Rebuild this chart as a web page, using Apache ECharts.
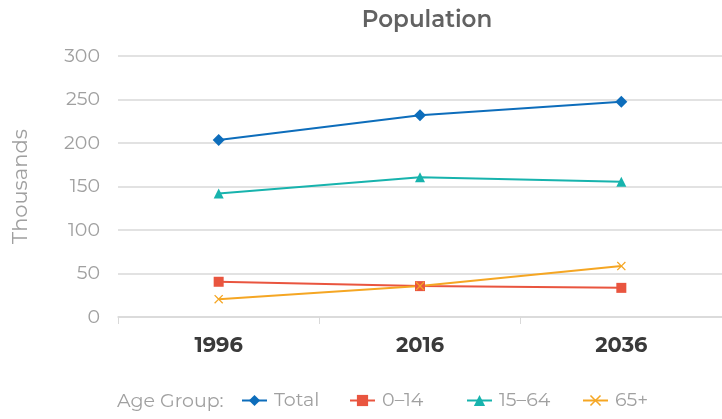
<!DOCTYPE html>
<html><head><meta charset="utf-8">
<script src="https://cdn.jsdelivr.net/npm/echarts@6/dist/echarts.min.js"></script>
<style>html,body{margin:0;padding:0;background:#fff}#c{width:722px;height:419px}</style>
</head><body><div id="c"></div>
<script>
const categories = ['1996', '2016', '2036'];
const totalValues = [203.5, 232, 247.5];
const age0to14 = [40.5, 35.5, 33.5];
const age15to64 = [142, 160.5, 155.5];
const age65plus = [20.5, 35.5, 58.5];
const seriesNames = ['Total', '0–14', '15–64', '65+'];
const colors = ['#0d6dbb', '#e9553f', '#17b3ad', '#f5a623'];

const font = 'Montserrat, "Open Sans", "Noto Sans", sans-serif';
const crossPath = 'path://M1,0 L5,4 L9,0 L10,1 L6,5 L10,9 L9,10 L5,6 L1,10 L0,9 L4,5 L0,1 Z';
const legendLefts = [241, 349, 466, 582];

const chart = echarts.init(document.getElementById('c'));
function mk(name, data, color, symbol, size) {
  return {
    name, type: 'line', data, symbol, symbolSize: size,
    lineStyle: { color, width: 2 }, itemStyle: { color },
    emphasis: { disabled: true }
  };
}
chart.setOption({
  animation: false,
  title: {
    text: 'Population', left: 422, top: 4, textAlign: 'center',
    textStyle: { fontFamily: font, fontSize: 23, fontWeight: 600, color: '#626262' }
  },
  graphic: [{
    type: 'text', left: 117, top: 392,
    style: { text: 'Age Group:', font: '19px ' + font, fill: '#a0a0a0' }
  }],
  legend: seriesNames.map((n, i) => ({
    left: legendLefts[i], top: 391, itemWidth: 25, itemHeight: 14, padding: 0,
    textStyle: { fontFamily: font, fontSize: 19, color: '#a0a0a0', padding: [0, 0, 0, 2] },
    data: [n]
  })),
  grid: { left: 118, top: 56, width: 611, height: 261, containLabel: false },
  xAxis: {
    type: 'category', data: categories, boundaryGap: true,
    axisLine: { lineStyle: { color: '#d9d9d9', width: 1.5 } },
    axisTick: { show: true, lineStyle: { color: '#d9d9d9' }, length: 7 },
    axisLabel: { fontFamily: font, fontSize: 21, fontWeight: 'bold', color: '#3a3a3a', margin: 18 }
  },
  yAxis: {
    type: 'value', min: 0, max: 300, interval: 50,
    name: 'Thousands', nameLocation: 'middle', nameGap: 87, nameRotate: 90,
    nameTextStyle: { fontFamily: font, fontSize: 21, color: '#a0a0a0' },
    axisLine: { show: false }, axisTick: { show: false },
    axisLabel: { fontFamily: font, fontSize: 19, color: '#a0a0a0', margin: 18 },
    splitLine: { lineStyle: { color: '#d9d9d9', width: 1.5 } }
  },
  series: [
    mk(seriesNames[0], totalValues, colors[0], 'diamond', 12),
    mk(seriesNames[1], age0to14, colors[1], 'rect', 10),
    mk(seriesNames[2], age15to64, colors[2], 'triangle', 10),
    mk(seriesNames[3], age65plus, colors[3], crossPath, 9)
  ]
});
</script></body></html>
